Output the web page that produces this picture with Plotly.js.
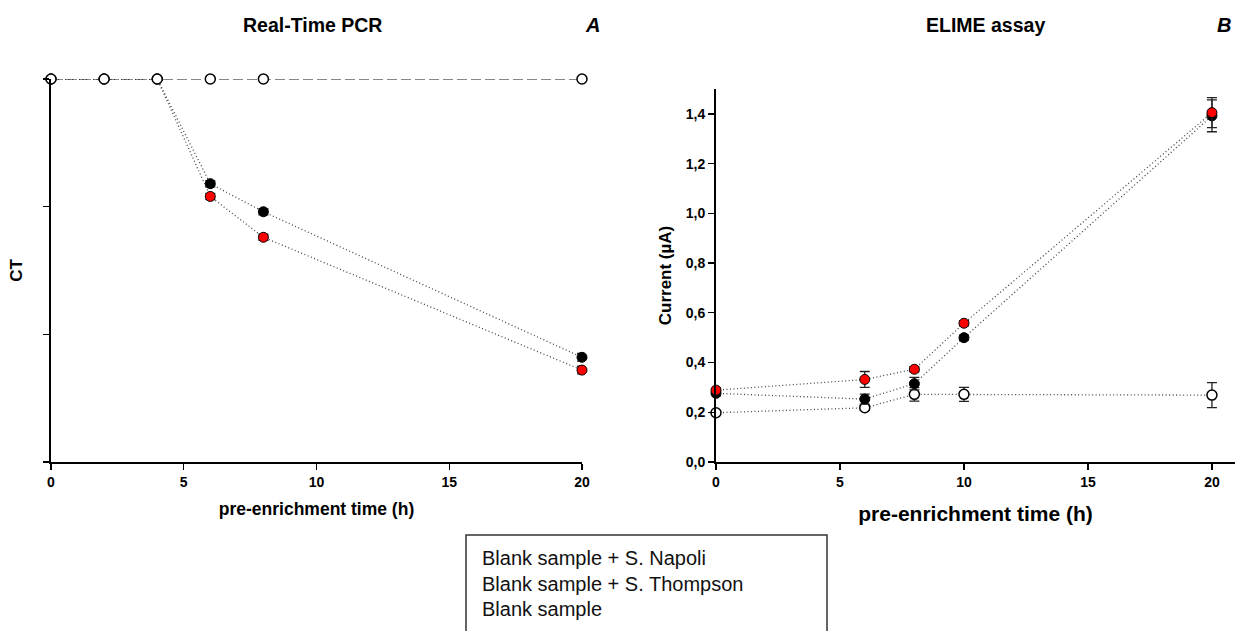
<!DOCTYPE html>
<html>
<head>
<meta charset="utf-8">
<script src="https://cdn.plot.ly/plotly-3.0.1.min.js"></script>
<style>html,body{margin:0;padding:0;background:#fff;}#chart{width:1235px;height:631px;}</style>
</head>
<body>
<div id="chart"></div>
<script>
// ---- Data ----
const seriesNames = ["Blank sample + S. Napoli", "Blank sample + S. Thompson", "Blank sample"];

// Panel A: Real-Time PCR (CT)
const timeA = [0, 2, 4, 6, 8, 20];
const ctNapoli = [40, 40, 40, 35.9, 34.8, 29.1];
const ctNapoliErr = [0, 0, 0, 0.12, 0.12, 0.15];
const ctThompson = [40, 40, 40, 35.4, 33.8, 28.6];
const ctThompsonErr = [0, 0, 0, 0.12, 0.12, 0.15];
const ctBlank = [40, 40, 40, 40, 40, 40];

// Panel B: ELIME assay (current, µA)
const timeB = [0, 6, 8, 10, 20];
const curNapoli = [0.276, 0.253, 0.315, 0.500, 1.392];
const curNapoliErr = [0.01, 0.02, 0.025, 0.01, 0.064];
const curThompson = [0.289, 0.332, 0.373, 0.558, 1.405];
const curThompsonErr = [0.01, 0.032, 0.01, 0.01, 0.06];
const curBlank = [0.198, 0.218, 0.272, 0.272, 0.269];
const curBlankErr = [0.005, 0.01, 0.027, 0.028, 0.05];

const xTicks = [0, 5, 10, 15, 20];
const ctTicks = [25, 30, 35, 40];
const curTicks = [0, 0.2, 0.4, 0.6, 0.8, 1.0, 1.2, 1.4];

// ---- Styles ----
const W = 1235, H = 631;
const px = v => v / W;
const py = v => 1 - v / H;
const FONT = "Liberation Sans, Arial, sans-serif";
const dotLine = {color: "#444", width: 1.3, dash: "1px,2.5px"};
const errStyle = (arr) => ({type: "data", array: arr, visible: true, color: "#222", thickness: 1.3, width: 5});

const traces = [
  // Panel A
  {x: timeA, y: ctThompson, name: seriesNames[1], xaxis: "x", yaxis: "y", mode: "lines+markers", cliponaxis: false,
   line: dotLine, marker: {size: 10, color: "#ff0000", line: {color: "#000", width: 1}},
   error_y: errStyle(ctThompsonErr), showlegend: false},
  {x: timeA, y: ctNapoli, name: seriesNames[0], xaxis: "x", yaxis: "y", mode: "lines+markers", cliponaxis: false,
   line: dotLine, marker: {size: 10, color: "#000", line: {color: "#000", width: 1}},
   error_y: errStyle(ctNapoliErr), showlegend: false},
  {x: timeA, y: ctBlank, name: seriesNames[2], xaxis: "x", yaxis: "y", mode: "lines+markers", cliponaxis: false,
   line: {color: "#111", width: 1.2, dash: "10px,4px"}, marker: {size: 10, color: "#fff", line: {color: "#000", width: 1.5}},
   showlegend: false},
  // Panel B
  {x: timeB, y: curBlank, name: seriesNames[2], xaxis: "x2", yaxis: "y2", mode: "lines+markers", cliponaxis: false,
   line: dotLine, marker: {size: 10, color: "#fff", line: {color: "#000", width: 1.5}},
   error_y: errStyle(curBlankErr), showlegend: false},
  {x: timeB, y: curNapoli, name: seriesNames[0], xaxis: "x2", yaxis: "y2", mode: "lines+markers", cliponaxis: false,
   line: dotLine, marker: {size: 10, color: "#000", line: {color: "#000", width: 1}},
   error_y: errStyle(curNapoliErr), showlegend: false},
  {x: timeB, y: curThompson, name: seriesNames[1], xaxis: "x2", yaxis: "y2", mode: "lines+markers", cliponaxis: false,
   line: dotLine, marker: {size: 10, color: "#ff0000", line: {color: "#000", width: 1}},
   error_y: errStyle(curThompsonErr), showlegend: false}
];

const axisCommon = {showgrid: false, zeroline: false, showline: true, linecolor: "#000", linewidth: 2,
  ticks: "outside", ticklen: 6, tickwidth: 1.3, tickcolor: "#000", automargin: false,
  tickfont: {family: FONT, size: 14, color: "#000", weight: "bold"}};

const layout = {
  width: W, height: H, margin: {l: 0, r: 0, t: 0, b: 0},
  paper_bgcolor: "#fff", plot_bgcolor: "rgba(0,0,0,0)",
  separators: ",.",
  showlegend: false,
  font: {family: FONT, color: "#000"},
  xaxis: Object.assign({}, axisCommon, {domain: [px(51), px(582)], range: [0, 20], anchor: "y",
    tickvals: xTicks, title: {text: "pre-enrichment time (h)", standoff: 14,
    font: {family: FONT, size: 17.5, weight: "bold", color: "#000"}}}),
  yaxis: Object.assign({}, axisCommon, {domain: [py(462), py(79)], range: [25, 40], anchor: "x",
    tickvals: ctTicks, showticklabels: false, title: {text: "CT", standoff: 16,
    font: {family: FONT, size: 17, weight: "bold", color: "#000"}}}),
  xaxis2: Object.assign({}, axisCommon, {domain: [px(716), 1], range: [0, 20.93], anchor: "y2",
    tickvals: xTicks, title: {text: "pre-enrichment time (h)", standoff: 18,
    font: {family: FONT, size: 21, weight: "bold", color: "#000"}}}),
  yaxis2: Object.assign({}, axisCommon, {domain: [py(462), py(89)], range: [0, 1.5], anchor: "x2",
    tickvals: curTicks, tickformat: ".1f", title: {text: "Current (µA)", standoff: 10,
    font: {family: FONT, size: 17, weight: "bold", color: "#000"}}}),
  annotations: [
    {xref: "paper", yref: "paper", x: px(312), y: py(25), text: "Real-Time PCR", showarrow: false,
     xanchor: "center", yanchor: "middle", font: {family: FONT, size: 19.5, weight: "bold", color: "#000"}},
    {xref: "paper", yref: "paper", x: px(592), y: py(25), text: "<i>A</i>", showarrow: false,
     xanchor: "center", yanchor: "middle", font: {family: FONT, size: 20, weight: "bold", color: "#000"}},
    {xref: "paper", yref: "paper", x: px(985), y: py(25), text: "ELIME assay", showarrow: false,
     xanchor: "center", yanchor: "middle", font: {family: FONT, size: 19.5, weight: "bold", color: "#000"}},
    {xref: "paper", yref: "paper", x: px(1224), y: py(25), text: "<i>B</i>", showarrow: false,
     xanchor: "center", yanchor: "middle", font: {family: FONT, size: 20, weight: "bold", color: "#000"}}
  ].concat(seriesNames.map((n, i) => ({
     xref: "paper", yref: "paper", x: px(480), y: py(558 + i * 25.5), text: n, showarrow: false,
     xanchor: "left", yanchor: "middle", font: {family: FONT, size: 20, color: "#111"}}))),
  shapes: [
    {type: "rect", xref: "paper", yref: "paper", x0: px(466), x1: px(827), y0: py(535), y1: py(650),
     line: {color: "#333", width: 1.5}, fillcolor: "rgba(0,0,0,0)"}
  ]
};

Plotly.newPlot("chart", traces, layout, {staticPlot: true, displayModeBar: false});
</script>
</body>
</html>
